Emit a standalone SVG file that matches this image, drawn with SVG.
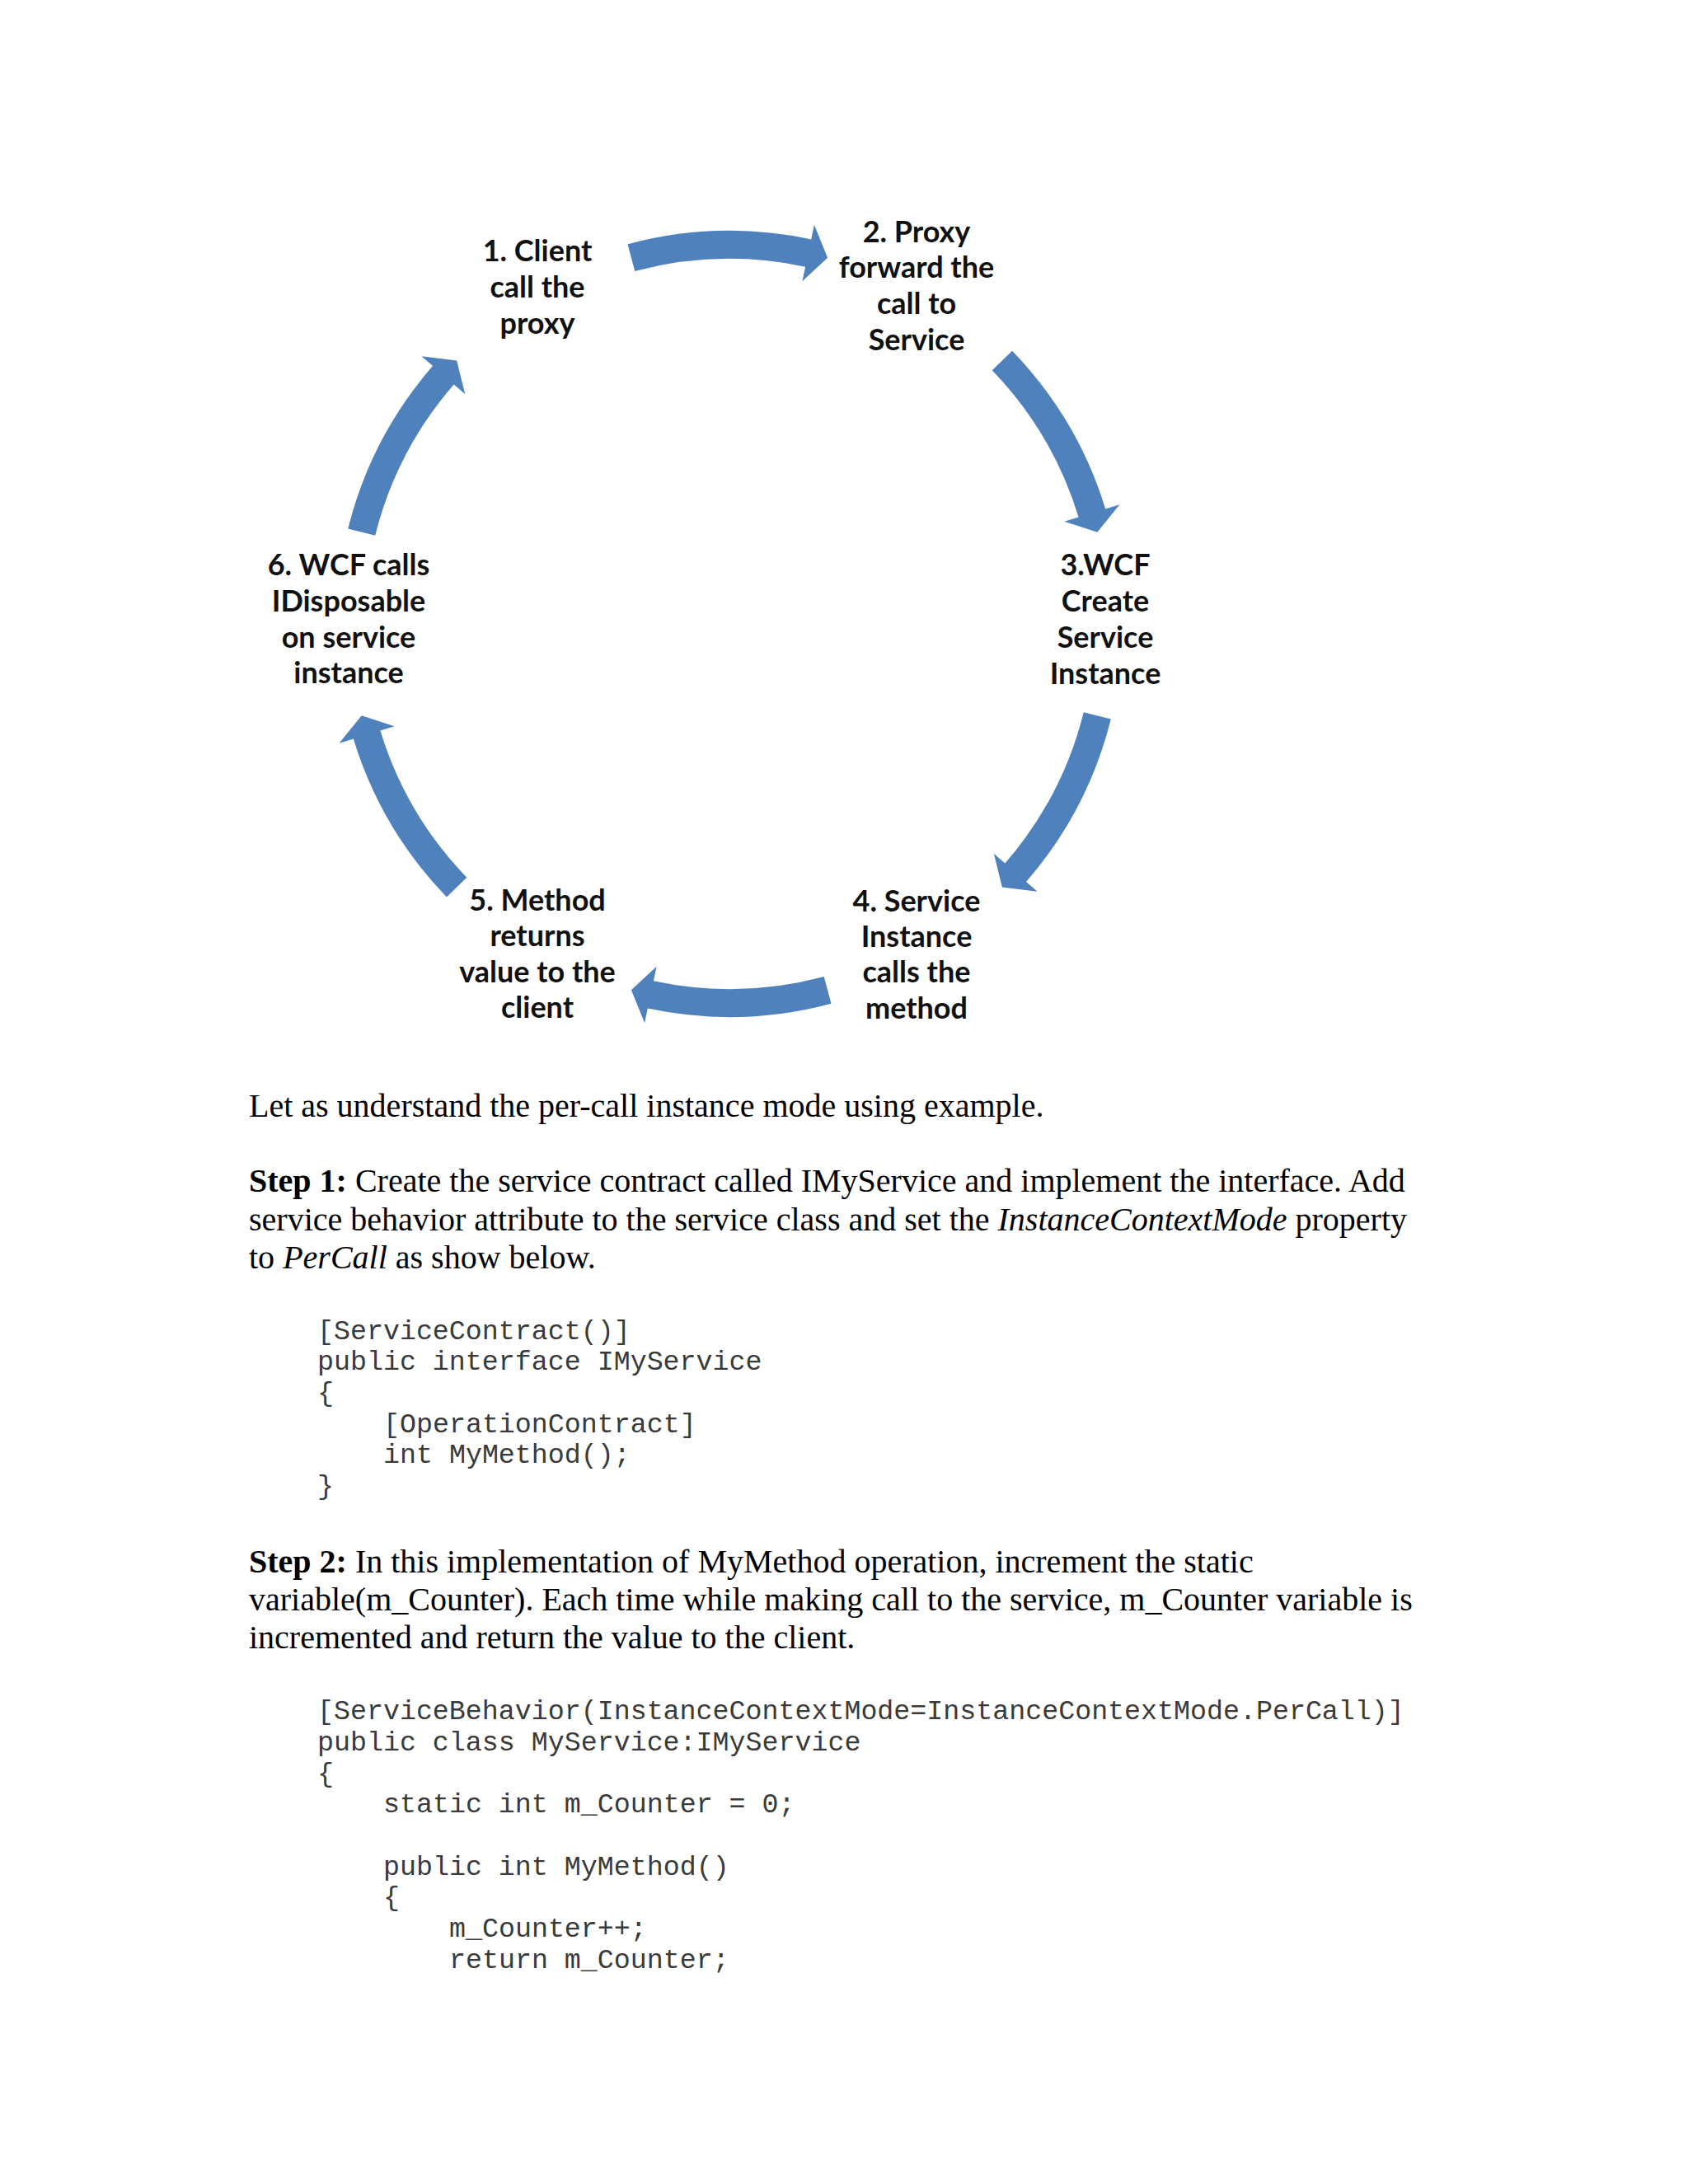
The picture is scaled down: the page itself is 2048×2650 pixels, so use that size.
<svg xmlns="http://www.w3.org/2000/svg" width="2048" height="2650" viewBox="0 0 2048 2650">
<style>
.lbl{font-family:Lato,"Liberation Sans",sans-serif;font-weight:bold;font-size:36px;fill:#111;text-anchor:middle}
.arr{fill:#4F81BD}
.body{font-family:"Liberation Serif","Times New Roman",serif;font-size:40px;fill:#000}
.code{font-family:"Liberation Mono","Courier New",monospace;font-size:33.3px;fill:#3a3a3a;white-space:pre}
</style>
<rect width="2048" height="2650" fill="#fff"/>
<g id="connectors">
<path class="arr" d="M761.5,296.3 A477,477 0 0 1 984.2,290.4 L987.9,272.8 L1004.1,312.7 L973.4,341.3 L977.1,323.7 A443,443 0 0 0 770.3,329.1 Z"/>
<path class="arr" d="M1228.1,425.7 A477,477 0 0 1 1341.2,617.5 L1358.4,612.3 L1331.3,645.7 L1291.4,632.7 L1308.6,627.5 A443,443 0 0 0 1203.7,449.3 Z"/>
<path class="arr" d="M1347.8,872.4 A477,477 0 0 1 1245.0,1069.9 L1258.6,1081.8 L1215.9,1076.5 L1205.8,1035.8 L1219.3,1047.6 A443,443 0 0 0 1314.8,864.2 Z"/>
<path class="arr" d="M1008.5,1217.8 A477,477 0 0 1 785.8,1223.6 L782.1,1241.2 L765.9,1201.3 L796.6,1172.7 L792.9,1190.3 A443,443 0 0 0 999.7,1184.9 Z"/>
<path class="arr" d="M541.9,1088.4 A477,477 0 0 1 428.8,896.5 L411.6,901.7 L438.7,868.3 L478.6,881.3 L461.4,886.5 A443,443 0 0 0 566.3,1064.7 Z"/>
<path class="arr" d="M422.2,641.6 A477,477 0 0 1 525.0,444.1 L511.4,432.3 L554.1,437.5 L564.3,478.2 L550.7,466.4 A443,443 0 0 0 455.2,649.8 Z"/>
</g>
<g id="node1">
<text class="lbl" x="652" y="317">1. Client</text>
<text class="lbl" x="652" y="361">call the</text>
<text class="lbl" x="652" y="405">proxy</text>
</g>
<g id="node2">
<text class="lbl" x="1112" y="294">2. Proxy</text>
<text class="lbl" x="1112" y="337">forward the</text>
<text class="lbl" x="1112" y="381">call to</text>
<text class="lbl" x="1112" y="425">Service</text>
</g>
<g id="node3">
<text class="lbl" x="1341" y="698">3.WCF</text>
<text class="lbl" x="1341" y="742">Create</text>
<text class="lbl" x="1341" y="786">Service</text>
<text class="lbl" x="1341" y="830">Instance</text>
</g>
<g id="node4">
<text class="lbl" x="1112" y="1106">4. Service</text>
<text class="lbl" x="1112" y="1149">Instance</text>
<text class="lbl" x="1112" y="1192">calls the</text>
<text class="lbl" x="1112" y="1236">method</text>
</g>
<g id="node5">
<text class="lbl" x="652" y="1105">5. Method</text>
<text class="lbl" x="652" y="1148">returns</text>
<text class="lbl" x="652" y="1192">value to the</text>
<text class="lbl" x="652" y="1235">client</text>
</g>
<g id="node6">
<text class="lbl" x="423" y="698">6. WCF calls</text>
<text class="lbl" x="423" y="742">IDisposable</text>
<text class="lbl" x="423" y="786">on service</text>
<text class="lbl" x="423" y="829">instance</text>
</g>
<g id="text">
<text class="body" x="302" y="1355">Let as understand the per-call instance mode using example.</text>
<text class="body" x="302" y="1446"><tspan font-weight="bold">Step 1:</tspan> Create the service contract called IMyService and implement the interface. Add</text>
<text class="body" x="302" y="1493">service behavior attribute to the service class and set the <tspan font-style="italic">InstanceContextMode</tspan> property</text>
<text class="body" x="302" y="1539">to <tspan font-style="italic">PerCall</tspan> as show below.</text>
<text class="code" x="385" y="1625">[ServiceContract()]</text>
<text class="code" x="385" y="1662">public interface IMyService</text>
<text class="code" x="385" y="1700">{</text>
<text class="code" x="465" y="1738">[OperationContract]</text>
<text class="code" x="465" y="1775">int MyMethod();</text>
<text class="code" x="385" y="1813">}</text>
<text class="body" x="302" y="1908"><tspan font-weight="bold">Step 2:</tspan> In this implementation of MyMethod operation, increment the static</text>
<text class="body" x="302" y="1954">variable(m_Counter). Each time while making call to the service, m_Counter variable is</text>
<text class="body" x="302" y="2000">incremented and return the value to the client.</text>
<text class="code" x="385" y="2086">[ServiceBehavior(InstanceContextMode=InstanceContextMode.PerCall)]</text>
<text class="code" x="385" y="2124">public class MyService:IMyService</text>
<text class="code" x="385" y="2162">{</text>
<text class="code" x="465" y="2199">static int m_Counter = 0;</text>
<text class="code" x="465" y="2275">public int MyMethod()</text>
<text class="code" x="465" y="2312">{</text>
<text class="code" x="545" y="2350">m_Counter++;</text>
<text class="code" x="545" y="2388">return m_Counter;</text>
</g>
</svg>
